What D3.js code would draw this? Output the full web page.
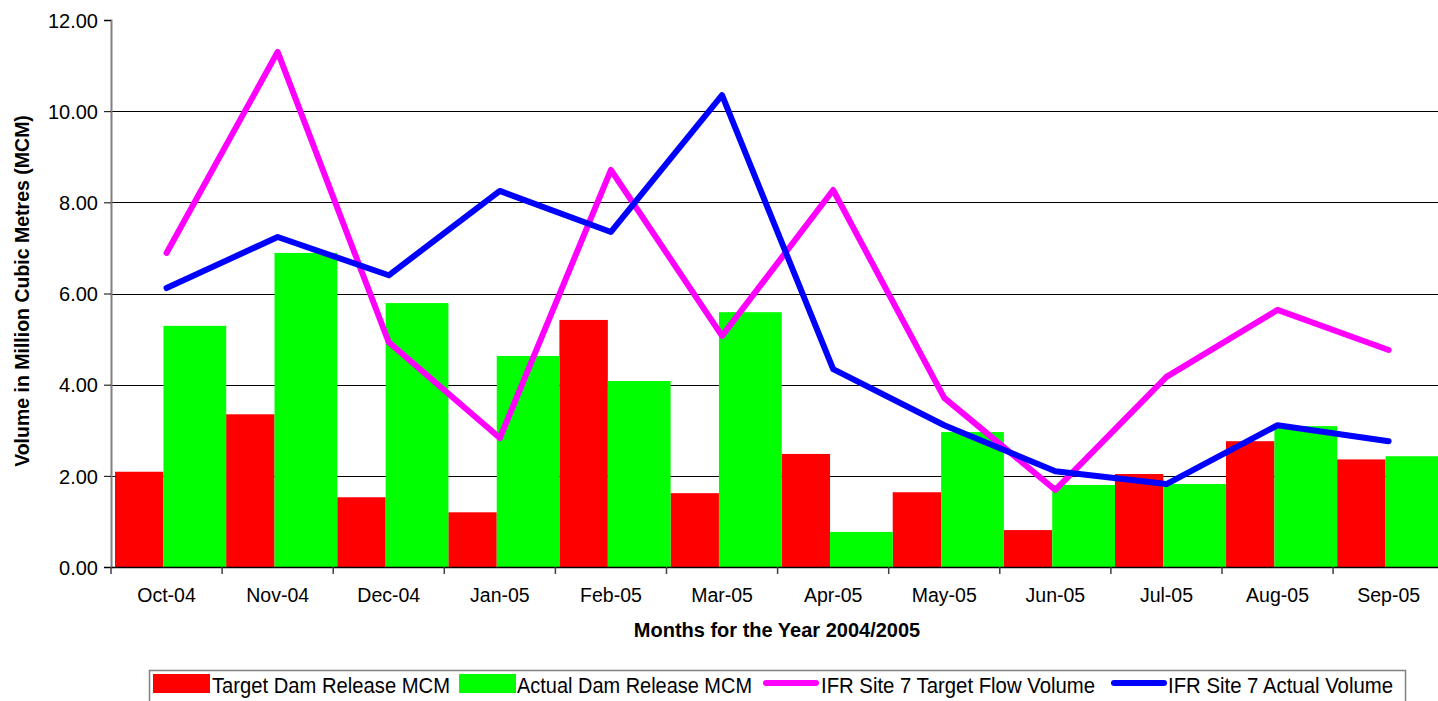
<!DOCTYPE html>
<html>
<head>
<meta charset="utf-8">
<script src="https://cdn.jsdelivr.net/npm/d3@7"></script>
<style>
  body { margin: 0; background: #fff; }
  text { font-family: Arial, "Liberation Sans", sans-serif; fill: #000; }
</style>
</head>
<body>
<div id="chart"></div>
<script>
// Data
var months = ["Oct-04", "Nov-04", "Dec-04", "Jan-05", "Feb-05", "Mar-05",
  "Apr-05", "May-05", "Jun-05", "Jul-05", "Aug-05", "Sep-05"];
var targetDam = [2.09, 3.35, 1.53, 1.20, 5.42, 1.62, 2.48, 1.64, 0.81, 2.04, 2.76, 2.36];
var actualDam = [5.29, 6.89, 5.79, 4.63, 4.08, 5.59, 0.77, 2.96, 1.80, 1.82, 3.09, 2.43];
var ifrTarget = [6.89, 11.30, 4.93, 2.83, 8.71, 5.07, 8.27, 3.71, 1.69, 4.17, 5.64, 4.76];
var ifrActual = [6.12, 7.24, 6.40, 8.25, 7.35, 10.35, 4.34, 3.11, 2.10, 1.82, 3.11, 2.76];
var yTicks = [0, 2, 4, 6, 8, 10, 12];

// Colours
var red = "#ff0000", green = "#00ff00", magenta = "#ff00ff", blue = "#0000ff";

var W = 1438, H = 701;
var plot = { left: 111, top: 20, bottom: 567, right: 111 + 12 * 111.1 };

var svg = d3.select("#chart").append("svg")
  .attr("width", W)
  .attr("height", H);

// Scales
var x = d3.scaleBand().domain(months).range([plot.left, plot.right]).padding(0);
var y = d3.scaleLinear().domain([0, 12]).range([plot.bottom, plot.top]);
var bw = x.bandwidth();

// Gridlines (not at the top)
svg.append("g")
  .selectAll("line")
  .data(yTicks.filter(function (d) { return d > 0 && d < 12; }))
  .enter().append("line")
  .attr("x1", plot.left).attr("x2", W)
  .attr("y1", function (d) { return Math.round(y(d)) + 0.5; })
  .attr("y2", function (d) { return Math.round(y(d)) + 0.5; })
  .attr("stroke", "#000")
  .attr("stroke-width", 1);

// Bars
svg.append("g").selectAll("rect")
  .data(targetDam)
  .enter().append("rect")
  .attr("x", function (d, i) { return x(months[i]) + bw * 0.036; })
  .attr("width", bw * 0.436)
  .attr("y", function (d) { return y(d); })
  .attr("height", function (d) { return y(0) - y(d); })
  .attr("fill", red);

svg.append("g").selectAll("rect")
  .data(actualDam)
  .enter().append("rect")
  .attr("x", function (d, i) { return x(months[i]) + bw * 0.472; })
  .attr("width", bw * 0.565)
  .attr("y", function (d) { return y(d); })
  .attr("height", function (d) { return y(0) - y(d); })
  .attr("fill", green);

// Axes
var yAxis = d3.axisLeft(y).tickValues(yTicks).tickSize(7)
  .tickFormat(d3.format(".2f"));
var gy = svg.append("g")
  .attr("transform", "translate(" + plot.left + ",0)")
  .call(yAxis);
gy.select(".domain").attr("stroke", "#808080").attr("stroke-width", 2);
gy.selectAll(".tick line").attr("stroke", "#000");
gy.selectAll("text")
  .style("font-size", "20px")
  .attr("x", -13)
  .attr("dy", "0.36em");

var gx = svg.append("g")
  .attr("transform", "translate(0," + plot.bottom + ")")
  .call(d3.axisBottom(x).tickSize(0));
gx.select(".domain").attr("stroke", "#000").attr("stroke-width", 1.5);
gx.selectAll("text")
  .style("font-size", "19.5px")
  .attr("y", 35)
  .attr("dy", 0);

// Tick marks at category boundaries
svg.append("g").selectAll("line")
  .data(months.concat(["end"]))
  .enter().append("line")
  .attr("x1", function (d, i) { return plot.left + i * bw; })
  .attr("x2", function (d, i) { return plot.left + i * bw; })
  .attr("y1", plot.bottom)
  .attr("y2", plot.bottom + 7)
  .attr("stroke", "#404040")
  .attr("stroke-width", 1.5);

// Lines
var line = d3.line()
  .x(function (d, i) { return x(months[i]) + bw / 2; })
  .y(function (d) { return y(d); });

svg.append("path")
  .datum(ifrTarget)
  .attr("d", line)
  .attr("fill", "none")
  .attr("stroke", magenta)
  .attr("stroke-width", 6)
  .attr("stroke-linejoin", "round")
  .attr("stroke-linecap", "round");

svg.append("path")
  .datum(ifrActual)
  .attr("d", line)
  .attr("fill", "none")
  .attr("stroke", blue)
  .attr("stroke-width", 6)
  .attr("stroke-linejoin", "round")
  .attr("stroke-linecap", "round");

// Axis titles
svg.append("text")
  .attr("x", 777)
  .attr("y", 637)
  .attr("text-anchor", "middle")
  .style("font-size", "20px")
  .style("font-weight", "bold")
  .text("Months for the Year 2004/2005");

svg.append("text")
  .attr("transform", "translate(29," + 291 + ") rotate(-90)")
  .attr("text-anchor", "middle")
  .style("font-size", "19.5px")
  .style("font-weight", "bold")
  .text("Volume in Million Cubic Metres (MCM)");

// Legend
var legend = svg.append("g");
legend.append("rect")
  .attr("x", 149.5).attr("y", 670.5)
  .attr("width", 1256).attr("height", 40)
  .attr("fill", "#fff")
  .attr("stroke", "#808080")
  .attr("stroke-width", 1.5);

var legendItems = [
  { name: "Target Dam Release MCM", color: red, type: "rect", x: 153, tx: 212, tw: 238 },
  { name: "Actual Dam Release MCM", color: green, type: "rect", x: 459, tx: 517, tw: 235 },
  { name: "IFR Site 7 Target Flow Volume", color: magenta, type: "line", x: 763, tx: 821, tw: 274 },
  { name: "IFR Site 7 Actual Volume", color: blue, type: "line", x: 1111, tx: 1168, tw: 225 }
];

legendItems.forEach(function (it) {
  if (it.type === "rect") {
    legend.append("rect")
      .attr("x", it.x).attr("y", 674)
      .attr("width", 57).attr("height", 19)
      .attr("fill", it.color);
  } else {
    legend.append("line")
      .attr("x1", it.x + 3).attr("x2", it.x + 53)
      .attr("y1", 683).attr("y2", 683)
      .attr("stroke", it.color)
      .attr("stroke-width", 6)
      .attr("stroke-linecap", "round");
  }
  legend.append("text")
    .attr("x", it.tx)
    .attr("y", 693)
    .attr("textLength", it.tw)
    .attr("lengthAdjust", "spacingAndGlyphs")
    .style("font-size", "22px")
    .text(it.name);
});
</script>
</body>
</html>
